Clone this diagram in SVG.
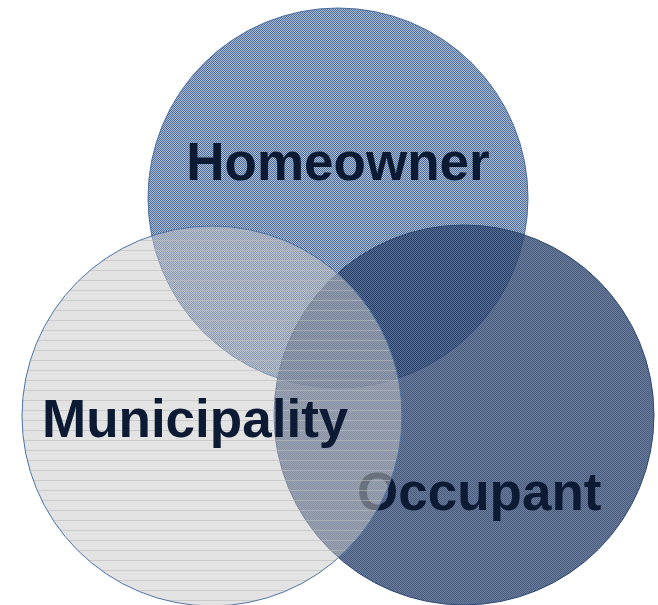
<svg xmlns="http://www.w3.org/2000/svg" width="658" height="605" viewBox="0 0 658 605">
  <style>
    .label { font-family: "Liberation Sans", Arial, sans-serif; font-weight: bold; font-size: 53px; fill: #0c1a33; }
  </style>
  <defs>
    <pattern id="patH" patternUnits="userSpaceOnUse" width="2" height="2">
      <rect width="2" height="2" fill="#a8b8d0"/>
      <rect x="0" y="0" width="1" height="1" fill="#52709c"/>
      <rect x="1" y="1" width="1" height="1" fill="#52709c"/>
    </pattern>
    <pattern id="patO" patternUnits="userSpaceOnUse" width="2" height="2">
      <rect width="2" height="2" fill="#445a82"/>
      <rect x="0" y="0" width="1" height="1" fill="#1f3660"/>
      <rect x="1" y="1" width="1" height="1" fill="#1f3660"/>
    </pattern>
    <pattern id="patM" patternUnits="userSpaceOnUse" width="10" height="10">
      <rect width="10" height="10" fill="#c8c8c8" fill-opacity="0.5"/>
      <rect x="0" y="0" width="10" height="1" fill="#bababa" fill-opacity="0.6"/>
    </pattern>
  </defs>
  <g id="homeowner">
    <circle cx="338" cy="198" r="190" fill="url(#patH)" stroke="#4a6fa3" stroke-width="1"/>
    <text class="label" x="338" y="180" text-anchor="middle">Homeowner</text>
  </g>
  <g id="occupant">
    <circle cx="464" cy="415" r="190" fill="url(#patO)" fill-opacity="0.8" stroke="#2e4775" stroke-width="1"/>
    <text class="label" x="357" y="510">Occupant</text>
  </g>
  <g id="municipality">
    <circle cx="212" cy="416" r="190" fill="url(#patM)" stroke="#4f73a6" stroke-width="1"/>
    <text class="label" x="42" y="437">Municipality</text>
  </g>
  <g id="connectors"/>
</svg>
